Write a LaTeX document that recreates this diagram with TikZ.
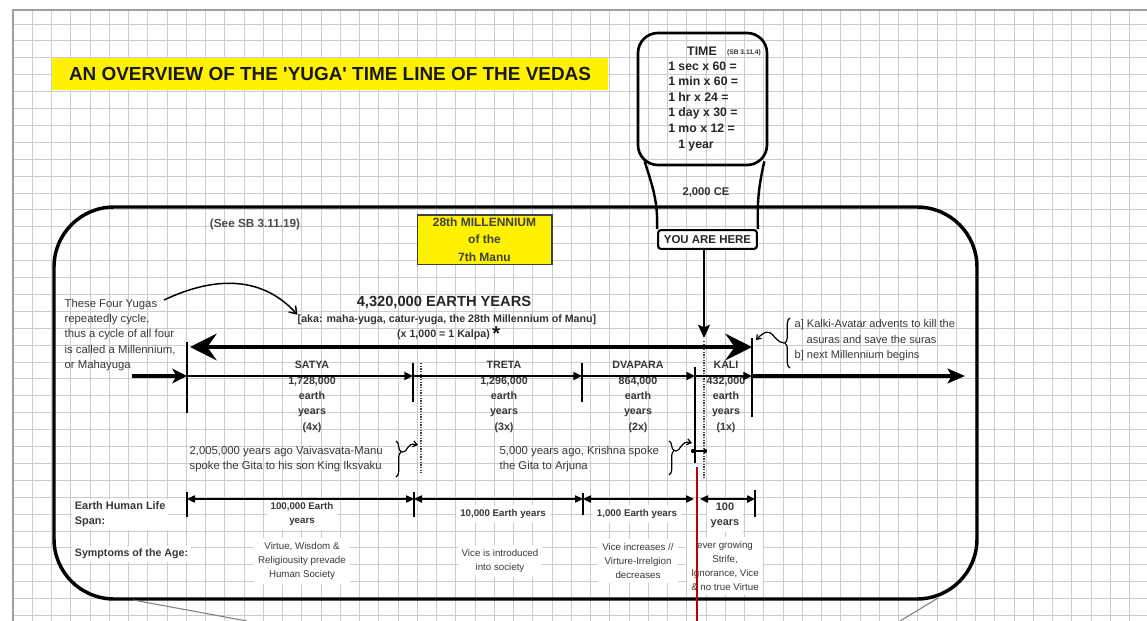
\documentclass[tikz,border=0pt]{standalone}
\usepackage{fontspec}
\setmainfont{Liberation Sans}
\usetikzlibrary{arrows.meta,decorations.pathreplacing,calc}
\begin{document}
\begin{tikzpicture}[x=0.75pt,y=-0.75pt,
  gridc/.style={draw=gray!40, line width=0.7pt},
  lbl/.style={text=black!78, inner sep=1pt},
  rg/.style={lbl, font=\fontsize{8.5}{11.6}\selectfont, align=left},
  yl/.style={lbl, font=\bfseries\fontsize{8}{11.5}\selectfont, align=center},
  sm/.style={lbl, font=\fontsize{7.3}{10.5}\selectfont, align=center, fill=white, inner sep=3pt},
  smb/.style={lbl, font=\bfseries\fontsize{7.3}{10.5}\selectfont, align=center, fill=white, inner sep=3pt},
  tk/.style={line width=1.4pt},
  seg/.style={line width=1.4pt, -{Triangle[length=6.5pt,width=6pt]}},
  lspan/.style={line width=1pt, {Triangle[length=6pt,width=5.5pt]}-{Triangle[length=6pt,width=5.5pt]}},
  brc/.style={line width=0.9pt, decorate},
  sq/.style={line width=0.9pt, -{Straight Barb[length=3pt,width=4.5pt]}},
  dotl/.style={line width=1pt, black!75, dash pattern=on 1pt off 1pt}
]
\useasboundingbox (0,0) rectangle (1147,621);
\clip (0,0) rectangle (1147,621);
\fill[white] (0,0) rectangle (1147,621);
% grid
\foreach \i in {0,...,59} \draw[gridc] ({13+19.25*\i},10) -- ({13+19.25*\i},621);
\foreach \j in {0,...,36} \draw[gridc] (13,{24+16.9*\j}) -- (1147,{24+16.9*\j});
\draw[gray!75, line width=1.5pt] (13,621) -- (13,10) -- (1147,10);

% title
\node[fill=yellow, minimum width=417pt, minimum height=24pt, inner sep=0pt,
      font=\bfseries\fontsize{14.2}{15}\selectfont, text=black!90] (title) at (330,74)
      {AN OVERVIEW OF THE \textquotesingle YUGA\textquotesingle\ TIME LINE OF THE VEDAS};

% time box
\node[draw, line width=2pt, rounded corners=15pt, minimum width=96.75pt, minimum height=99pt] (tbox) at (702.5,99) {};
\node[font=\bfseries\fontsize{9.3}{10}\selectfont, text=black!85, inner sep=0pt] (time) at (702,51) {TIME};
\node[font=\bfseries\fontsize{5}{6}\selectfont, text=black!80, inner sep=0pt] (sb) at (744,53) {(SB 3.11.4)};
\node[anchor=west, align=left, font=\bfseries\fontsize{9.2}{11.7}\selectfont, text=black!85, inner sep=0pt] (conv) at (668,106)
  {1 sec x 60 =\\1 min x 60 =\\1 hr x 24 =\\1 day x 30 =\\1 mo x 12 =\\\hspace*{7.5pt}1 year};
\node[font=\bfseries\fontsize{8.4}{9}\selectfont, text=black!80, inner sep=0pt] (ce) at (706,192) {2,000 CE};
\node[draw, line width=1.6pt, rounded corners=2pt, minimum width=74pt, minimum height=14pt, inner sep=0pt,
      font=\bfseries\fontsize{8.6}{9}\selectfont, text=black!85, fill=white] (here) at (707.5,239.5) {YOU ARE HERE};
\draw[line width=1.8pt] ([shift={(8,-5)}]tbox.south west) .. controls (652,185) and (658,200) .. (here.north west);
\draw[line width=1.8pt] ([shift={(-4,-5)}]tbox.south east) .. controls (759,185) and (757,200) .. (here.north east);

% big frame
\draw[line width=2.6pt, rounded corners=45pt] (54,207) rectangle (977,599);

% header texts
\node[font=\bfseries\fontsize{8.8}{9}\selectfont, text=black!70] (see) at (255,224) {(See SB 3.11.19)};
\node[draw=black!75, line width=1pt, fill=yellow, minimum width=101pt, minimum height=37pt, align=center,
      font=\bfseries\fontsize{9}{13}\selectfont, text=black!75, inner sep=0pt] (mill) at (484.5,239.5)
      {28th MILLENNIUM\\of the\\7th Manu};
\node[font=\bfseries\fontsize{11}{12}\selectfont, text=black!85, inner sep=0pt] (years) at (444,303) {4,320,000 EARTH YEARS};
\node[font=\bfseries\fontsize{8}{9}\selectfont, text=black!80, inner sep=0pt] (aka) at (447,320) {[aka: maha-yuga, catur-yuga, the 28th Millennium of Manu]};
\node[font=\bfseries\fontsize{8}{9}\selectfont, text=black!80, inner sep=0pt] (kalpa) at (443.5,335) {(x 1,000 = 1 Kalpa)};
\node[anchor=base west, font=\bfseries\fontsize{15}{15}\selectfont, text=black!90, inner sep=0pt] (ast) at ([xshift=1.5pt,yshift=-2pt]kalpa.base east) {*};

\node[rg, anchor=west] (four) at (63,335) {These Four Yugas\\repeatedly cycle,\\thus a cycle of all four\\is called a Millennium,\\or Mahayuga};
\coordinate (fourend) at (164,300);
\draw[line width=1.1pt, -{Straight Barb[length=5pt,width=7pt]}] (fourend) .. controls (200,283) and (255,268) .. (aka.north west);

% yuga labels
\node[yl] (satya) at (312,397) {SATYA\\1,728,000\\earth\\years\\(4x)};
\node[yl] (treta) at (504,397) {TRETA\\1,296,000\\earth\\years\\(3x)};
\node[yl] (dvapara) at (638,397) {DVAPARA\\864,000\\earth\\years\\(2x)};
\node[yl] (kali) at (726,397) {KALI\\432,000\\earth\\years\\(1x)};

% annotations
\node[rg, anchor=west] (vaiv) at (188,459) {2,005,000 years ago Vaivasvata-Manu\\spoke the Gita to his son King Iksvaku};
\node[rg, anchor=west] (kri) at (498,459) {5,000 years ago, Krishna spoke\\the Gita to Arjuna};
\node[rg, anchor=west, font=\fontsize{8.3}{11.6}\selectfont] (kalki) at (793,340.5)
  {a] Kalki-Avatar advents to kill the\\\hspace*{9pt}asuras and save the suras\\b] next Millennium begins};

% life span & symptoms
\node[lbl, anchor=west, align=left, font=\bfseries\fontsize{8.2}{11}\selectfont, fill=white, inner sep=2pt] (span) at (72,514.5) {Earth Human Life\\Span:};
\node[lbl, anchor=west, font=\bfseries\fontsize{8}{9}\selectfont, fill=white, inner sep=2pt] (symp) at (72,554) {Symptoms of the Age:};
\node[smb] (ls100k) at (302,514) {100,000 Earth\\years};
\node[smb] (ls10k) at (503,514) {10,000 Earth years};
\node[smb] (ls1k) at (637,514) {1,000 Earth years};
\node[smb, font=\bfseries\fontsize{8.2}{11}\selectfont] (ls100) at (725,515.5) {100\\years};
\node[sm] (sy1) at (302,561) {Virtue, Wisdom \&\\Religiousity prevade\\Human Society};
\node[sm] (sy2) at (500,560.5) {Vice is introduced\\into society};
\node[sm] (sy3) at (638,561) {Vice increases //\\Virture-Irrelgion\\decreases};
\node[sm] (sy4) at (725,566) {ever growing\\Strife,\\Ignorance, Vice\\\& no true Virtue};

% timeline coordinates
\coordinate (t0) at (132,376);
\coordinate (s0) at (187,376);
\coordinate (s1) at (413,376);
\coordinate (t1) at (582,376);
\coordinate (d1) at (695,376);
\coordinate (k1) at (752,376);
\coordinate (tend) at (965,376);
\coordinate (m0) at (190,347);
\coordinate (m1) at (752,347);
\coordinate (youtip) at (704,338);

% ticks
\draw[tk] (187,342) -- (187,413);
\draw[tk] (413,363) -- (413,402);
\draw[tk] (582,363) -- (582,402);
\draw[tk] (695,367) -- (695,463);
\draw[tk] (752,338) -- (752,417);
\draw[dotl] (421,363) -- (421,473);
\draw[dotl] (704,341) -- (704,478);

% timeline arrows
\draw[line width=2.4pt, -{Stealth[length=11pt,width=11pt,inset=3pt]}] (t0) -- (s0);
\draw[seg] (s0) -- (s1);
\draw[seg] (s1) -- (t1);
\draw[seg] (t1) -- (d1);
\draw[seg] (d1) -- (k1);
\draw[line width=2.4pt, -{Stealth[length=13pt,width=11pt,inset=3pt]}] (k1) -- (tend);
\draw[line width=3pt, {Stealth[length=20pt,width=20pt,inset=7pt]}-{Stealth[length=20pt,width=20pt,inset=7pt]}] (m0) -- (m1);
\draw[line width=1.5pt, -{Stealth[length=10pt,width=9pt,inset=2pt]}] (here.south -| youtip) -- (youtip);

% braces and squiggles
\draw[brc, decoration={brace, amplitude=4pt, aspect=0.3}] (396,441) -- (396,477);
\draw[sq] (402,452) .. controls (409,452) and (406,442) .. (418,445);
\draw[brc, decoration={brace, amplitude=4pt, aspect=0.28}] (669,441) -- (669,475);
\draw[sq] (675,451) .. controls (682,451) and (680,440) .. (692,443);
\draw[line width=0.9pt] (693,451) -- (705,451);
\fill (693,451) circle (1.6pt);
\fill (705,451) circle (1.6pt);
\draw[brc, decoration={brace, amplitude=4pt, aspect=0.5}] (790,368) -- (790,318);
\draw[sq] (784,343) .. controls (772,342) and (773,322) .. (756,340);

% life span arrows
\coordinate (ls0) at (187,499);
\coordinate (ls1) at (414,499);
\coordinate (ls2) at (583,499);
\coordinate (ls3) at (694,499);
\coordinate (ls3b) at (700,499);
\coordinate (ls4) at (755,499);
\draw[tk] (187,492) -- (187,517);
\draw[tk] (414,492) -- (414,517);
\draw[tk] (583,493) -- (583,515);
\draw[tk] (755,490) -- (755,517);
\draw[lspan] (ls0) -- (ls1);
\draw[lspan] (ls1) -- (ls2);
\draw[lspan] (ls2) -- (ls3);
\draw[lspan] (ls3b) -- (ls4);

% red line and callout lines
\draw[red!75!black, line width=1.3pt] (697,467) -- (697,621);
\draw[gray, line width=0.8pt] (133,600) -- (247,621);
\draw[gray, line width=0.8pt] (938,598) -- (900,621);
\end{tikzpicture}
\end{document}
